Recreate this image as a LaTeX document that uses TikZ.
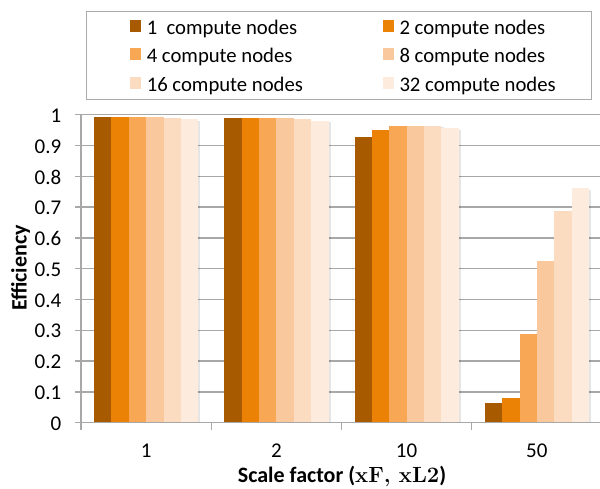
\documentclass[tikz,border=0pt]{standalone}
\usepackage{fontspec}
\setmainfont{Carlito}
\newfontfamily\lmfont{Latin Modern Roman}

% bar colours, darkest (1 node) to lightest (32 nodes)
\definecolor{c0}{RGB}{168,90,0}
\definecolor{c1}{RGB}{236,130,5}
\definecolor{c2}{RGB}{248,167,85}
\definecolor{c3}{RGB}{250,200,157}
\definecolor{c4}{RGB}{252,220,192}
\definecolor{c5}{RGB}{253,236,222}
\definecolor{gridgray}{RGB}{168,168,168}
\definecolor{framegray}{RGB}{170,170,170}

\begin{document}
\begin{tikzpicture}[x=1pt,y=-1pt,
  gridline/.style={draw=gridgray,line width=1.25pt},
  axisline/.style={draw=gridgray,line width=1.4pt},
  ticklab/.style={font=\fontsize{21}{25}\selectfont,inner sep=0pt},
  legtext/.style={font=\fontsize{20.7}{24}\selectfont,inner sep=0pt,anchor=base west},
  axtitle/.style={font=\fontsize{22}{26}\selectfont\bfseries,inner sep=0pt},
  barshadow/.style={fill=black,opacity=0.10}]
\useasboundingbox (0,0) rectangle (600,489);

% horizontal gridlines (0.1 ... 1.0), with their tick stubs left of the axis
\foreach \i in {1,...,10}
  \draw[gridline] (75,{422.7-30.8*\i}) -- (600,{422.7-30.8*\i});

% y tick labels
\foreach \t [count=\i from 0] in {0,0.1,0.2,0.3,0.4,0.5,0.6,0.7,0.8,0.9,1}
  \node[ticklab,anchor=east] (yl\i) at (61.5,{423.5-30.8*\i}) {\t};

% bars: one group per scale factor, six node counts per group
\foreach \vals [count=\g from 0] in {
    {0.994,0.994,0.994,0.993,0.989,0.985},
    {0.988,0.988,0.988,0.989,0.985,0.980},
    {0.929,0.950,0.964,0.964,0.964,0.956},
    {0.065,0.079,0.287,0.525,0.688,0.761}}{
  \foreach \v [count=\k from 0] in \vals {
    \pgfmathsetmacro\xa{81+130.25*\g+13.03+17.37*\k}
    \pgfmathsetmacro\xb{\xa+17.37}
    \pgfmathsetmacro\yt{422.7-308*\v}
    \fill[barshadow] (\xb,422.7) rectangle ({\xb+2.2},{\yt+1.5});
    \fill[c\k] (\xa,422.7) rectangle (\xb,\yt);
  }
}

% axes
\draw[axisline] (81,115) -- (81,430);
\draw[axisline] (75,422.7) -- (600,422.7);
\foreach \g in {1,2,3}
  \draw[axisline] ({81+130.25*\g},422.7) -- ({81+130.25*\g},430);

% category labels
\foreach \t [count=\g from 0] in {1,2,10,50}
  \node[ticklab,anchor=base] (xl\g) at ({146.1+130.25*\g},457.5) {\t};

% axis titles
\node[axtitle,anchor=base] (xtitle) at (342,482)
  {Scale factor ({\lmfont\bfseries xF, xL2})};
\node[axtitle,rotate=90] (ytitle) at (20.5,268) {Efficiency};

% legend
\draw[framegray,line width=1pt,fill=white] (86,12) rectangle (591,99.5);
\foreach \k/\cx/\ry/\txt in {
    0/0/0/{1\ \ compute nodes},
    1/1/0/{2 compute nodes},
    2/0/1/{4 compute nodes},
    3/1/1/{8 compute nodes},
    4/0/2/{16 compute nodes},
    5/1/2/{32 compute nodes}}{
  \fill[c\k] ({129.5+253*\cx},{34.3+28.4*\ry-14.2})
     rectangle ({141.2+253*\cx},{34.3+28.4*\ry-2.5});
  \node[legtext] (leg\k) at ({146.6+252.7*\cx},{34.3+28.4*\ry}) {\txt};
}
\end{tikzpicture}
\end{document}
